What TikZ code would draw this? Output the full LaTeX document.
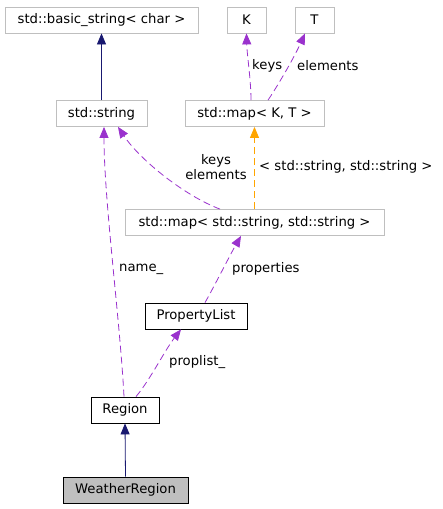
\documentclass[tikz,border=0pt]{standalone}
\usepackage{fontspec}
\setmainfont{DejaVu Sans}
\usetikzlibrary{arrows.meta}
\definecolor{navy}{HTML}{191970}
\definecolor{purp}{HTML}{9A32CD}
\definecolor{orng}{HTML}{FFA500}
\definecolor{greyb}{HTML}{BFBFBF}
\tikzset{
  box/.style={draw=black, line width=0.8pt, minimum height=26pt, inner sep=0pt, font=\fontsize{13.2}{15}\selectfont},
  extbox/.style={box, draw=greyb},
  lbl/.style={font=\fontsize{13.2}{15}\selectfont, inner sep=0pt},
  inh/.style={draw=navy, line width=0.8pt, -{Triangle[length=11pt,width=9pt]}},
  use/.style={draw=purp, line width=0.8pt, dash pattern=on 7pt off 4pt, -{Triangle[length=11pt,width=9pt]}},
  tmpl/.style={draw=orng, line width=0.8pt, dash pattern=on 7pt off 4pt, -{Triangle[length=11pt,width=9pt]}},
}
\begin{document}
\begin{tikzpicture}[x=1pt,y=-1pt]
\useasboundingbox (0,0) rectangle (443,509);
\node[extbox, minimum width=193pt] (bs) at (101.5,20) {std::basic\_string< char >};
\node[extbox, minimum width=39pt] (K) at (246.5,20) {K};
\node[extbox, minimum width=39pt] (T) at (314.5,20) {T};
\node[extbox, minimum width=91pt] (str) at (101.5,113.5) {std::string};
\node[extbox, minimum width=139pt] (mkt) at (254.5,113.5) {std::map< K, T >};
\node[extbox, minimum width=259pt] (mss) at (254.5,222.5) {std::map< std::string, std::string >};
\node[box, minimum width=102pt] (pl) at (196,316) {PropertyList};
\node[box, minimum width=68pt] (reg) at (125,410) {Region};
\node[box, minimum width=125pt, fill=greyb] (wr) at (125.5,490) {WeatherRegion};

\draw[inh] (str.north) -- (bs.south);
\draw[inh] (wr.north) -- (reg.north |- reg.south);
\draw[use] ([xshift=-3.5pt]mkt.north) .. controls (251,80) and (247,55) .. (K.south);
\draw[use] ([xshift=13.5pt]mkt.north) .. controls (275,90) and (293,60) .. ([xshift=-9.5pt]T.south);
\draw[tmpl] (mss.north) -- (mkt.south);
\draw[use] ([xshift=-34.5pt]mss.north) .. controls (185,196) and (140,160) .. ([xshift=16.5pt]str.south);
\draw[use] ([xshift=-1pt]reg.north) .. controls (120,320) and (104,200) .. ([xshift=2.5pt]str.south);
\draw[use] ([xshift=9pt]pl.north) .. controls (215,285) and (230,255) .. ([xshift=-13.5pt]mss.south);
\draw[use] ([xshift=11pt]reg.north) .. controls (150,380) and (165,350) .. ([xshift=-15pt]pl.south);

\node[lbl, anchor=west] (lk) at (252,66) {keys};
\node[lbl, anchor=west] (le) at (297,66) {elements};
\node[lbl, anchor=west] (lt) at (259,167) {< std::string, std::string >};
\node[lbl, align=center] (lke) at (216,167) {keys\\elements};
\node[lbl, anchor=west] (ln) at (119,269) {name\_};
\node[lbl, anchor=west] (lp) at (232,269) {properties};
\node[lbl, anchor=west] (lpl) at (169,362) {proplist\_};
\end{tikzpicture}
\end{document}
